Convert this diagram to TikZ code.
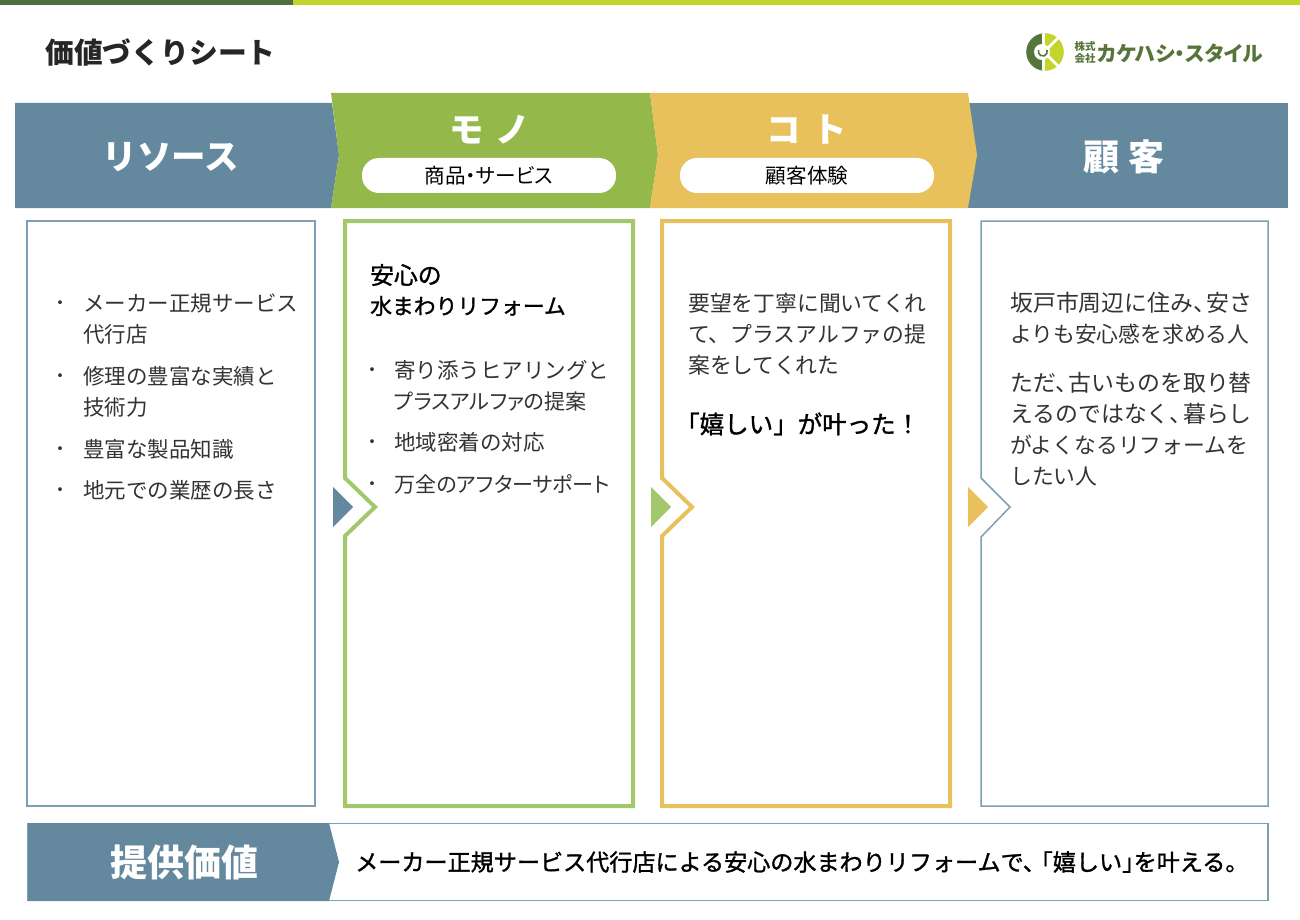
\documentclass[tikz,border=0pt]{standalone}
\usepackage{fontspec}
\setmainfont{Noto Sans CJK JP}
\newfontfamily\paltfont[RawFeature=+palt]{Noto Sans CJK JP}
\newfontfamily\medfont[FakeBold=1.3]{Noto Sans CJK JP}
\newcommand\tcomma{、\hspace{-0.42em}}
\definecolor{slateb}{HTML}{64889E}
\definecolor{slatel}{HTML}{7F9FB3}
\definecolor{leaf}{HTML}{94B84A}
\definecolor{leafl}{HTML}{A3C76B}
\definecolor{gold}{HTML}{E8C05C}
\definecolor{barD}{HTML}{4F6F3F}
\definecolor{barL}{HTML}{C3D52B}
\definecolor{inkc}{HTML}{333333}
\definecolor{logoD}{HTML}{55753A}
\tikzset{
 x=1pt,y=-1pt,
 txt/.style={anchor=west,inner sep=0pt,text=inkc,font=\fontsize{21.5}{24}\selectfont},
 rtxt/.style={anchor=west,inner sep=0pt,text=inkc,font=\fontsize{21.8}{24}\selectfont},
 ptxt/.style={anchor=west,inner sep=0pt,text=inkc,font=\fontsize{21.1}{24}\paltfont},
 wtxt/.style={anchor=west,inner sep=0pt,text=inkc,font=\fontsize{22.9}{24}\selectfont},
 bul/.style={anchor=center,inner sep=0pt,text=inkc,font=\fontsize{18}{20}\selectfont},
 strong/.style={anchor=west,inner sep=0pt,text=black,font=\fontsize{21.8}{24}\medfont},
 head/.style={anchor=center,inner sep=0pt,text=white,font=\fontsize{34.5}{36}\bfseries},
 pill/.style={anchor=center,inner sep=0pt,text=black,font=\fontsize{20.6}{22}\paltfont},
 logotxt/.style={inner sep=0pt,text=logoD},
}
\begin{document}
\begin{tikzpicture}
\useasboundingbox (0,0) rectangle (1300,920);
\fill[white] (0,0) rectangle (1300,920);
% top bar
\fill[barD] (0,0) rectangle (293,5);
\fill[barL] (293,0) rectangle (1300,5);
\node[anchor=west,inner sep=0pt,text=black!85,font=\fontsize{28.8}{30}\bfseries] (title) at (45,52) {価値づくりシート};
% logo
\begin{scope}
\clip (1045,52) circle[radius=18.8];
\fill[logoD] (1020,30) rectangle (1043,75);
\fill[barL] (1043,30) rectangle (1070,75);
\draw[white,line width=2.6pt] (1043.5,30)--(1043.5,45) (1043.5,59)--(1043.5,75);
\draw[white,line width=2.8pt] (1044,52)--(1066,30) (1044,52)--(1066,74);
\end{scope}
\fill[white] (1042,52) circle[radius=8];
\draw[logoD,line width=1.6pt] (1047,50) arc[start angle=-20,end angle=200,radius=4.5];
\node[logotxt,anchor=center,font=\fontsize{10.5}{11}\bfseries] (lg1) at (1085,46) {株式};
\node[logotxt,anchor=center,font=\fontsize{10.5}{11}\bfseries] (lg2) at (1085,59) {会社};
\node[logotxt,anchor=west,font=\fontsize{20.8}{22}\bfseries\paltfont] (lg3) at (1097,53) {カケハシ・スタイル};
% header band
\fill[slateb] (15,103) -- (332,103) -- (339,155) -- (331,208) -- (15,208) -- cycle;
\fill[slateb] (968,103) -- (1288,103) -- (1288,208) -- (968,208) -- cycle;
\fill[leaf] (331,93) -- (650,93) -- (658,155) -- (650,208) -- (331,208) -- (339,155) -- cycle;
\fill[gold] (650,93) -- (968,93) -- (977,155) -- (968,208) -- (650,208) -- (658,155) -- cycle;
\node[head] (h1) at (171,157) {リソース};
\node[head] (h2) at (490,130) {モ\hspace{0.32em}ノ};
\node[head] (h3) at (807,130) {コ\hspace{0.32em}ト};
\node[head,font=\fontsize{36}{38}\bfseries] (h4) at (1124,157) {顧\hspace{0.25em}客};
\fill[white,rounded corners=17pt] (362,158) rectangle (616,193);
\fill[white,rounded corners=17pt] (680,158) rectangle (934,193);
\node[pill] (p1) at (489,176) {商品・サービス};
\node[pill] (p2) at (807,176) {顧客体験};
% panels
\draw[slatel,line width=1.5pt,fill=white] (27,221) rectangle (315,806);
\draw[leafl,line width=4pt,miter limit=10] (345,221) -- (633,221) -- (633,806) -- (345,806) -- (345,536) -- (375,507) -- (345,478) -- cycle;
\draw[gold,line width=4pt] (662,221) -- (950,221) -- (950,806) -- (662,806) -- (662,536) -- (692,507) -- (662,478) -- cycle;
\draw[slatel,line width=1.5pt] (981,221) -- (1268,221) -- (1268,806) -- (981,806) -- (981,537) -- (1010,507) -- (981,478) -- cycle;
\fill[slateb] (333,487) -- (353,507) -- (333,527) -- cycle;
\fill[leafl] (651,487) -- (671,507) -- (651,527) -- cycle;
\fill[gold] (968,487) -- (988,507) -- (968,527) -- cycle;
% panel 1
\node[bul] (b1) at (60,305) {・};
\node[txt] (t1a) at (83,303) {メーカー正規サービス};
\node[txt] (t1b) at (83,334) {代行店};
\node[bul] (b2) at (60,378) {・};
\node[txt] (t1c) at (83,376) {修理の豊富な実績と};
\node[txt] (t1d) at (83,407) {技術力};
\node[bul] (b3) at (60,451) {・};
\node[txt] (t1e) at (83,449) {豊富な製品知識};
\node[bul] (b4) at (60,492) {・};
\node[txt] (t1f) at (83,490) {地元での業歴の長さ};
% panel 2
\node[strong,font=\fontsize{23.8}{26}\medfont] (t2a) at (370,275) {安心の};
\node[strong] (t2b) at (370,306) {水まわりリフォーム};
\node[bul] (b5) at (372,372) {・};
\node[txt] (t2c) at (394,370) {寄り添うヒアリングと};
\node[ptxt] (t2d) at (394,401) {プラスアルファの提案};
\node[bul] (b6) at (372,444) {・};
\node[txt] (t2e) at (394,442) {地域密着の対応};
\node[bul] (b7) at (372,486) {・};
\node[ptxt] (t2f) at (394,484) {万全のアフターサポート};
% panel 3
\node[rtxt] (t3a) at (688,303) {要望を丁寧に聞いてくれ};
\node[rtxt] (t3b) at (688,334) {て、プラスアルファの提};
\node[rtxt] (t3c) at (688,365) {案をしてくれた};
\node[strong,font=\fontsize{24.5}{26}\medfont] (t3d) at (675,424) {「嬉しい」が叶った！};
% panel 4
\node[wtxt] (t4a) at (1010,303) {坂戸市周辺に住み\tcomma 安さ};
\node[rtxt] (t4b) at (1010,334) {よりも安心感を求める人};
\node[wtxt] (t4c) at (1010,383) {ただ\tcomma 古いものを取り替};
\node[wtxt] (t4d) at (1010,414) {えるのではなく\tcomma 暮らし};
\node[rtxt] (t4e) at (1010,445) {がよくなるリフォームを};
\node[rtxt] (t4f) at (1010,476) {したい人};
% bottom band
\draw[slatel,line width=1.5pt,fill=white] (28,823.5) rectangle (1268,900.5);
\fill[slateb] (28,823) -- (329,823) -- (339,862) -- (329,901) -- (28,901) -- cycle;
\node[head,font=\fontsize{37}{40}\bfseries] (v1) at (184,862) {提供価値};
\node[anchor=west,inner sep=0pt,text=black,font=\fontsize{23.1}{26}\medfont] (v2) at (355,862) {メーカー正規サービス代行店による安心の水まわりリフォームで、\hspace{-0.7em}「嬉しい」\hspace{-0.5em}を叶える。};
\end{tikzpicture}
\end{document}
